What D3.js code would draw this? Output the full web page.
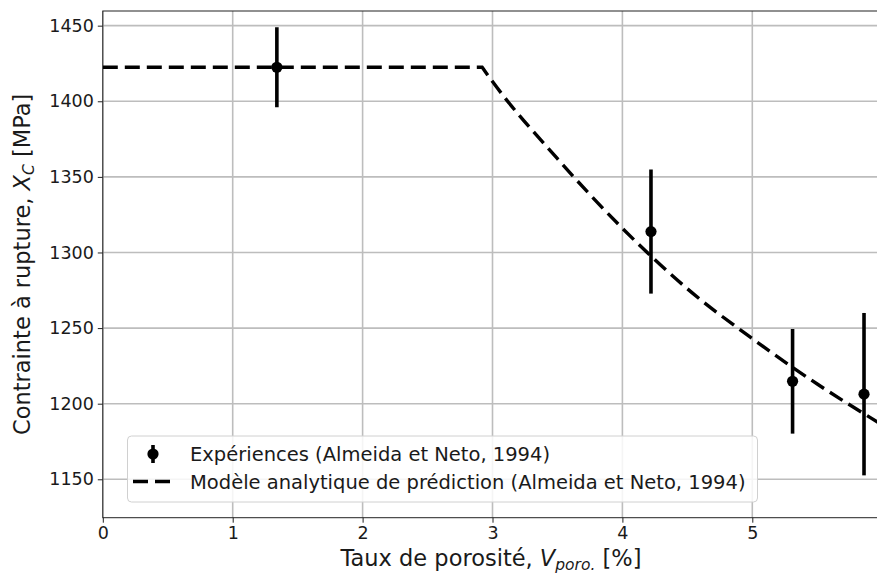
<!DOCTYPE html>
<html>
<head>
<meta charset="utf-8">
<script src="https://cdn.jsdelivr.net/npm/d3@7"></script>
<style>
  html, body { margin: 0; padding: 0; background: #fff; }
  svg text { font-family: "DejaVu Sans", sans-serif; fill: #1a1a1a; }
</style>
</head>
<body>
<svg id="chart" width="877" height="576"></svg>
<script>
// ---- data ----
const expX   = [1.34, 4.22, 5.31, 5.86];
const expY   = [1422.5, 1313.8, 1214.8, 1206.3];
const expErr = [26.5, 41.0, 34.6, 53.7];

const modelX = [0, 2.92, 3.0, 3.5, 4.0, 4.5, 5.0, 5.5, 6.0];
const modelY = [1422.5, 1422.5, 1413, 1362, 1316, 1276, 1243, 1213, 1186];

const xTicks = [0, 1, 2, 3, 4, 5, 6];
const yTicks = [1150, 1200, 1250, 1300, 1350, 1400, 1450];

const legendLabels = [
  "Expériences (Almeida et Neto, 1994)",
  "Modèle analytique de prédiction (Almeida et Neto, 1994)"
];

// ---- layout ----
const svg = d3.select("#chart");
const pL = 102.8, pR = 882.2, pT = 11, pB = 517.7;

const x = d3.scaleLinear().domain([0, 6]).range([pL, pR]);
const y = d3.scaleLinear().domain([1124.6, 1459.7]).range([pB, pT]);

svg.append("defs").append("clipPath").attr("id", "clip")
  .append("rect").attr("x", pL).attr("y", pT)
  .attr("width", pR - pL).attr("height", pB - pT);

// grid
const grid = svg.append("g");
grid.selectAll("line.gx").data(xTicks).join("line")
  .attr("x1", d => x(d)).attr("x2", d => x(d))
  .attr("y1", pT).attr("y2", pB)
  .attr("stroke", "#bdbdbd").attr("stroke-width", 1.6);
grid.selectAll("line.gy").data(yTicks).join("line")
  .attr("x1", pL).attr("x2", pR)
  .attr("y1", d => y(d)).attr("y2", d => y(d))
  .attr("stroke", "#bdbdbd").attr("stroke-width", 1.6);

// axes
const xAxis = svg.append("g").attr("transform", `translate(0,${pB})`)
  .call(d3.axisBottom(x).tickValues(xTicks).tickFormat(d3.format("d")).tickSize(5).tickPadding(4));
const yAxis = svg.append("g").attr("transform", `translate(${pL},0)`)
  .call(d3.axisLeft(y).tickValues(yTicks).tickFormat(d3.format("d")).tickSize(5).tickPadding(4));
[xAxis, yAxis].forEach(a => {
  a.select(".domain").remove();
  a.selectAll(".tick line").attr("stroke", "#222").attr("stroke-width", 1);
  a.selectAll(".tick text").style("font-size", "17.5px").attr("fill", "#1a1a1a");
});

// spines
svg.append("rect").attr("x", pL).attr("y", pT)
  .attr("width", pR - pL).attr("height", pB - pT)
  .attr("fill", "none").attr("stroke", "#222").attr("stroke-width", 1);

const plot = svg.append("g").attr("clip-path", "url(#clip)");

// model line: flat plateau joined sharply to a smooth decreasing curve
const pts = modelX.map((v, i) => [v, modelY[i]]);
const flat = d3.line().x(d => x(d[0])).y(d => y(d[1]))(pts.slice(0, 2));
const curved = d3.line().x(d => x(d[0])).y(d => y(d[1])).curve(d3.curveMonotoneX)(pts.slice(1));
plot.append("path")
  .attr("d", flat + "L" + curved.slice(1))
  .attr("fill", "none").attr("stroke", "#000").attr("stroke-width", 3.4)
  .attr("stroke-dasharray", "15,7");

// error bars
const exp = expX.map((v, i) => ({x: v, y: expY[i], e: expErr[i]}));
plot.selectAll("line.err").data(exp).join("line")
  .attr("x1", d => x(d.x)).attr("x2", d => x(d.x))
  .attr("y1", d => y(d.y - d.e)).attr("y2", d => y(d.y + d.e))
  .attr("stroke", "#000").attr("stroke-width", 3.6);
plot.selectAll("circle.pt").data(exp).join("circle")
  .attr("cx", d => x(d.x)).attr("cy", d => y(d.y)).attr("r", 5.6)
  .attr("fill", "#000");

// legend
const lg = svg.append("g");
lg.append("rect").attr("x", 127.5).attr("y", 436).attr("width", 630).attr("height", 66)
  .attr("rx", 4).attr("fill", "#fff").attr("fill-opacity", 0.85)
  .attr("stroke", "#d0d0d0").attr("stroke-width", 1);
lg.append("line").attr("x1", 153).attr("x2", 153).attr("y1", 445).attr("y2", 463)
  .attr("stroke", "#000").attr("stroke-width", 3.6);
lg.append("circle").attr("cx", 153).attr("cy", 454).attr("r", 5.6).attr("fill", "#000");
lg.append("line").attr("x1", 133).attr("x2", 171).attr("y1", 481.5).attr("y2", 481.5)
  .attr("stroke", "#000").attr("stroke-width", 3.4).attr("stroke-dasharray", "15,7");
lg.selectAll("text").data(legendLabels).join("text")
  .attr("x", 190).attr("y", (d, i) => 460.5 + i * 28)
  .style("font-size", "19.5px").text(d => d);

// x label
const xl = svg.append("text").attr("x", 491).attr("y", 566)
  .attr("text-anchor", "middle").style("font-size", "22.5px");
xl.append("tspan").text("Taux de porosité, ");
xl.append("tspan").style("font-style", "italic").text("V");
xl.append("tspan").style("font-style", "italic").style("font-size", "15.5px")
  .attr("dy", 4).text("poro.");
xl.append("tspan").attr("dy", -4).text(" [%]");

// y label
const yl = svg.append("text")
  .attr("transform", `translate(30,${(pT + pB) / 2}) rotate(-90)`)
  .attr("text-anchor", "middle").style("font-size", "22.5px");
yl.append("tspan").text("Contrainte à rupture, ");
yl.append("tspan").style("font-style", "italic").text("X");
yl.append("tspan").style("font-style", "italic").style("font-size", "15.5px").attr("dy", 4).text("C");
yl.append("tspan").attr("dy", -4).text(" [MPa]");
</script>
</body>
</html>
